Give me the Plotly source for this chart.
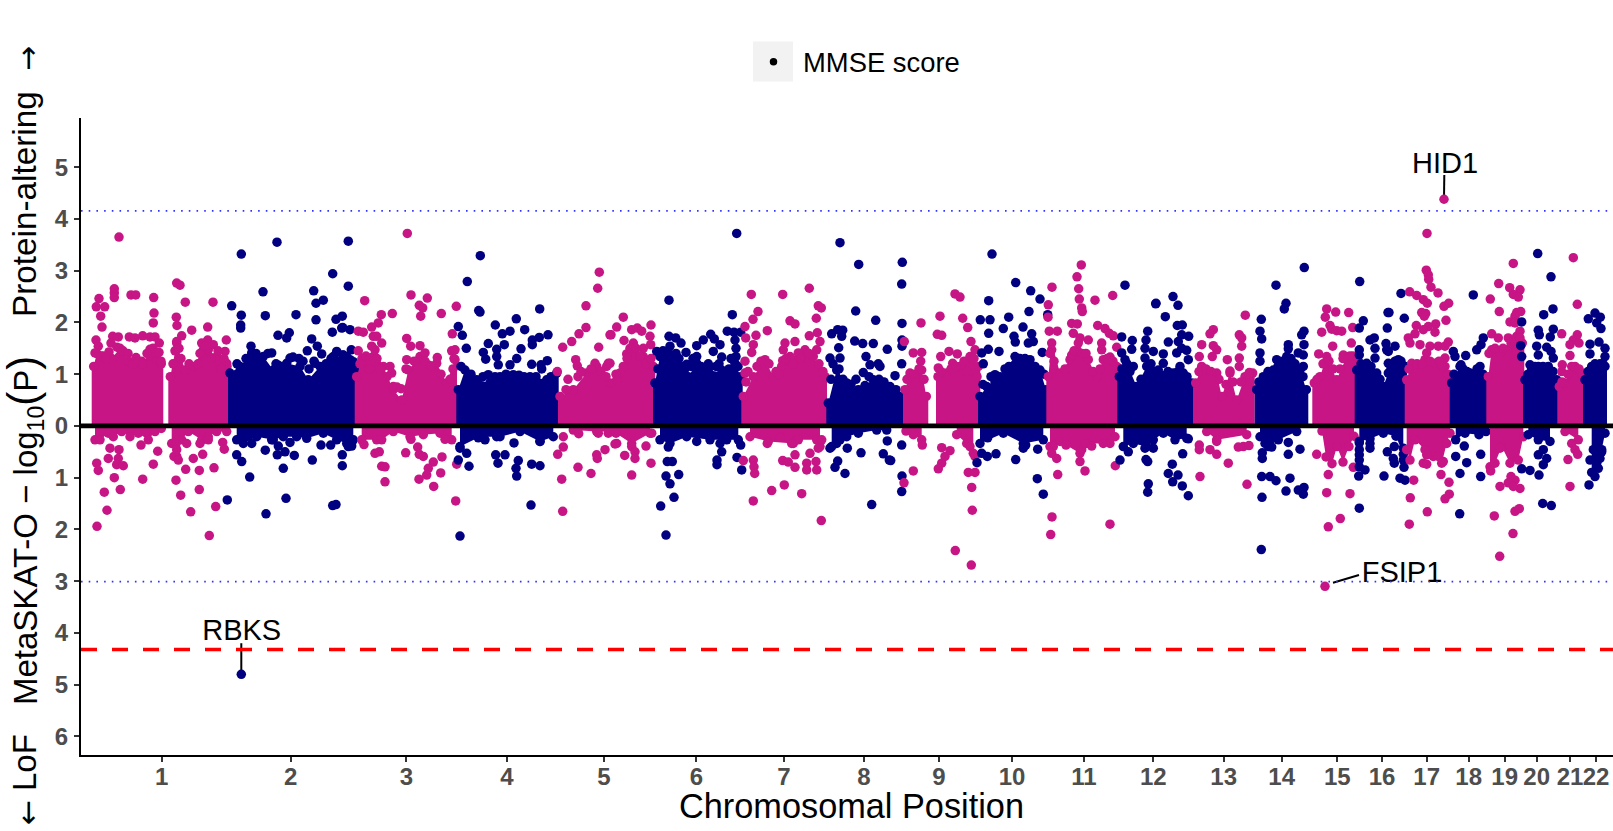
import plotly.graph_objects as go

# Genome position is in plot units along the concatenated chromosomes; values are signed -log10(P)
# (positive = protein-altering, negative = LoF). "_band"/"_low" = edges of the solid dense mass.
chrom_labels = [str(i) for i in range(1, 23)]
chrom_ticks = [80.7, 209.7, 325.3, 426, 523, 615.4, 703, 783, 858, 931, 1003, 1072.3, 1142.7, 1200.7,
               1256.3, 1301, 1345.7, 1387.7, 1423.7, 1455.7, 1489, 1515]
MAGENTA = "#C71585"
NAVY = "#000080"

chr01_band = [(12.7,1.15),(15.7,1.4),(22.3,1.35),(30.7,1.3),(39,1.5),(47.3,1.25),(52.3,1.2),(60.7,1.25),(69,1.35),(75.7,1.3),(80.3,1.2),None,
              (89.3,.95),(95.7,1.6),(104,1.08),(112.3,1.15),(122.3,1.47),(127.3,1.47),(135.7,1.34),(145.7,1.21),(148.3,.95)]
chr01_low = [(14,-.27),(19,-.27),(27.3,-.14),(32.3,-.21),(40.7,-.11),(49,-.21),(57.3,-.14),(67.3,-.27),(74,-.11),(80.3,-.05),None,
             (90.7,-.34),(95.7,-.59),(100.7,-.27),(107.3,-.11),(120.7,-.27),(127.3,-.21),(135.7,-.11),(145.7,-.11)]
chr01_points = [(38,3.65),(33.3,2.65),(33.3,2.57),(33.3,2.48),(50,2.53),(54.7,2.53),(72.7,2.48),(18,2.46),(15.3,2.3),(23.7,2.3),(19.7,2.12),(21,1.91),
    (73,2.18),(72.3,1.99),(95.7,2.76),(99,2.72),(104.3,2.39),(132,2.39),(95.3,2.1),(96,1.94),(110.7,1.85),(126.7,1.91),(15,1.66),(31.7,1.73),(37.3,1.72),
    (48.3,1.72),(54,1.7),(61.7,1.74),(69,1.72),(74,1.72),(78.3,1.6),(100.7,1.74),(95.7,1.63),(126.7,1.66),(145.3,1.66),(120.7,1.6),(132.3,1.57),(144,1.44),
    (17.3,1.54),(69,1.48),(74,1.41),(14,1.41),(20,1.35),(28,1.43),(30,1.6),(36,1.52),(42,1.45),(47,1.4),(55,1.32),(62,1.2),(66,1.4),(72,1.5),(78,1.42),(80,1.25),(25,1.3),
    (92,1.2),(94,1.45),(98,1.5),(100,1.3),(108,1.2),(117,1.2),(119,1.4),(125,1.55),(130,1.3),(137,1.45),(143,1.3),(146,1.15),(140,1.1),
    (29,-.43),(27.3,-.63),(38,-.46),(37.3,-.63),(35.7,-.75),(42.3,-.77),(60,-.37),
    (76.7,-.49),(72.3,-.74),(15.7,-.72),(17.3,-.86),(33.3,-1.0),(61.7,-1.03),(39.3,-1.23),(23.3,-1.28),(26,-1.63),(16,-1.94),(95,-.34),(93,-.59),(97.3,-.66),
    (105.7,-.34),(112.3,-.63),(121.7,-.55),(104.7,-.84),(118.3,-.86),(133,-.81),(95,-1.05),(99.7,-1.34),(118.3,-1.23),(109.7,-1.66),(134.7,-1.56),(128.3,-2.12),
    (141.7,-.32),(143.3,-.45),(119,-.34),(127.3,-.27),(95.7,-.46)]

chr02_band = [(149,1.02),(159,1.15),(170.7,1.41),(182.3,1.34),(192.3,1.08),(205.7,1.21),(219,1.15),(227.3,.89),(239,1.15),(252.3,1.34),(265.7,1.34),(269,1.28),(274,1.08)]
chr02_low = [(155.7,-.27),(162.3,-.34),(175.7,-.21),(192.3,-.27),(202.3,-.21),(215.7,-.21),(225.7,-.24),(242.3,-.14),(255.7,-.27),(265.7,-.34),(267.3,-.4),(272.3,-.27)]
chr02_points = [(160.3,3.32),(196,3.55),(267.3,3.57),(251.7,2.94),(182,2.59),(232.7,2.61),(267.3,2.7),(235,2.37),(242.3,2.43),(150.7,2.32),(160.3,2.14),(184.3,2.13),
    (215,2.15),(235,2.05),(255,2.06),(261.3,2.12),(159.7,1.95),(159.7,1.89),(197,1.75),(205.7,1.7),(208.3,1.8),(251.3,1.81),(260.7,1.89),(261.7,1.9),(269,1.86),
    (270.3,1.47),(261.7,1.37),(272.3,1.24),(230.7,1.68),(236.3,1.54),(226.3,1.45),(240.7,1.39),(170,1.54),(255.7,1.44),(262.3,1.37),(209,1.31),(190.7,1.41),(234,1.21),(197.3,1.17),
    (156,1.2),(165,1.3),(175,1.4),(180,1.2),(187,1.4),(195,1.2),(200,1.15),(212,1.33),(218,1.3),(222,1.25),(228,1.1),(233,1.25),(245,1.2),(250,1.3),(258,1.2),(268,1.1),
    (170.7,-.34),(190.7,-.27),(197.3,-.39),(209,-.32),(240,-.37),(249.7,-.37),
    (155.7,-.56),(160.7,-.69),(184.3,-.47),(196.3,-.56),(204,-.5),(213.3,-.57),(202.3,-.82),(231.3,-.66),(261.3,-.56),(261.3,-.77),(168.7,-.99),(205,-1.4),(146.3,-1.43),
    (185,-1.7),(251.7,-1.54),(255,-1.52),(270.7,-.39)]

chr03_band = [(275.7,.95),(281,1.3),(294,1.47),(302.3,1.15),(312.3,.7),(320.7,.5),(327.3,1.08),(339,1.34),(355.7,1.21),(365.7,.83),(374,1.28)]
chr03_low = [(280.7,-.27),(295.7,-.27),(300.7,-.27),(312.3,-.11),(329,-.21),(342.3,-.17),(359,-.14),(370.7,-.27)]
chr03_points = [(283.7,2.42),(300.3,2.15),(311.3,2.17),(330,2.53),(346.3,2.47),(338.3,2.33),(341.7,2.28),(339.7,2.12),(360.3,2.17),(375.3,2.31),(326.3,3.72),
    (297.3,1.99),(290.7,1.91),(277.3,1.83),(282.3,1.81),(292.3,1.73),(371.3,1.78),(325.7,1.69),(300.7,1.6),(290.7,1.54),(329.7,1.54),(339,1.55),(277.3,1.45),(370.7,1.45),
    (374,1.47),(295.7,1.73),(344,1.41),(356.3,1.32),(325.7,1.28),(309,1.15),(310.7,1.02),(312.3,.76),
    (279,1.2),(285,1.35),(288,1.1),(296,1.3),(299,1.1),(306,.95),(316,.75),(320,.72),(325,1.1),(333,1.25),(344,1.25),(350,1.15),(360,1),(369,.9),(372,1.1),(373,1.3),
    (283,-.36),(294,-.53),(298.3,-.5),(324.7,-.52),(336.7,-.41),(330,-.26),(364,-.26),
    (338.3,-.55),(342.3,-.59),(361,-.6),(352.3,-.7),(347.3,-.82),(300.7,-.78),(304,-.79),(304,-1.08),(359.7,-.91),(345.7,-.95),(338,-1.03),(352.7,-1.17),(374.7,-1.45),(375.7,-.74)]

chr04_band = [(377.3,.7),(384,1.08),(395.7,.89),(409,.83),(419,.95),(432.3,.99),(449,.95),(465.7,.89),(475.7,1.02)]
chr04_low = [(379,-.4),(399,-.21),(419,-.21),(439,-.11),(459,-.3),(472.3,-.21)]
chr04_points = [(399.3,3.29),(386.3,2.79),(397.7,2.23),(399,2.2),(458.7,2.26),(435.3,2.07),(377.3,1.92),(381.3,1.75),(414.3,1.95),(443.7,1.86),(429,1.83),(421.3,1.78),(467,1.76),
    (458.3,1.71),(451.3,1.66),(451.3,1.57),(385.3,1.5),(407.3,1.59),(423.3,1.57),(440,1.49),(402.3,1.42),(415.7,1.48),(415.7,1.34),(404.7,1.29),(435.7,1.3),(466.3,1.26),(450.7,1.19),
    (460,1.18),(429,1.18),(417.3,1.18),(460.7,1.1),(407.3,.99),(380,1.15),(390,1),(402,.95),(414,.95),(425,1),(438,.98),(443,.95),(455,.95),(470,.95),
    (397.3,-.23),(404,-.27),(415.7,-.21),(433,-.33),(459,-.3),(379,-.43),(414.7,-.56),(424,-.56),(377.3,-.66),
    (385.7,-.53),(388,-.78),(417,-.72),(437.3,-.67),(450.7,-.74),(459,-.77),(435,-.82),(435.7,-.97),(450,-1.53),(379,-2.13)]

chr05_band = [(479,.57),(492.3,.7),(505.7,1.02),(515.7,1.15),(529,.83),(535.7,.89),(542.3,1.15),(552.3,1.6),(562.3,1.34),(572.3,1.15)]
chr05_low = [(492.3,-.08),(515.7,-.11),(532.3,-.11),(550.7,-.34),(569,-.14)]
chr05_points = [(518.3,2.97),(516.7,2.66),(505,2.32),(505,1.9),(498,1.78),(535.7,1.91),(529,1.76),(490.7,1.63),(481.7,1.52),(517.7,1.52),(494.7,1.28),(496.3,1.16),(514,1.21),(527.3,1.21),
    (525.7,1.15),(476.3,1.05),(542.3,2.1),(530,1.76),(570,1.95),(550.7,1.86),(556.3,1.89),(560.7,1.83),(569,1.73),(543,1.65),(569.7,1.57),(562.3,1.5),(545.7,1.39),(568.3,1.25),(539,1.02),(529,1.21),
    (485,.7),(487,.9),(497,.95),(500,1.05),(510,1.1),(520,1.05),(525,.95),(535,1),(546,1.3),(549,1.5),(555,1.5),(559,1.35),(565,1.2),(570,1.3),
    (482.3,-.21),(482.3,-.41),(476.7,-.55),(497.7,-.15),(517.3,-.14),(527.3,-.14),(535.7,-.34),(524,-.46),(515.7,-.56),(516.3,-.63),(497,-.8),(510,-.92),(480.7,-1.03),(481.7,-1.65),
    (535,-.14),(534,-.35),(550.7,-.4),(554,-.5),(554,-.63),(543.7,-.57),(565,-.39),(570,-.72),(550.7,-.95),(570.7,-.14)]

chr06_band = [(574,.83),(579,1.34),(589,1.54),(600.7,1.15),(607.3,.95),(615.7,1.21),(627.3,1.08),(642.3,1.02),(654,1.21),(659.7,.95)]
chr06_low = [(579,-.27),(589,-.34),(605.7,-.21),(629,-.27),(645.7,-.27),(657.3,-.27)]
chr06_points = [(655.7,3.72),(588,2.43),(651.3,2.15),(588,1.73),(594.7,1.7),(600,1.6),(605,1.42),(575.7,1.44),(629.7,1.77),(622.3,1.66),(615.7,1.55),(633.3,1.68),(639,1.57),(646.3,1.83),
    (653,1.81),(659.7,1.81),(654,1.66),(655,1.5),(655,1.34),(640.7,1.33),(632.3,1.44),(615.7,1.34),(605.7,1.19),(627.3,1.2),(640.7,1.08),
    (577,1.1),(582,1.45),(586,1.4),(595,1.4),(598,1.3),(604,1.1),(610,1.15),(612,1.3),(620,1.15),(635,1.15),(638,1.2),(648,1.1),(650,1.3),(657,1.15),
    (587.3,-.41),(615.7,-.3),(639,-.34),(659.7,-.37),(640.7,-.5),(586.3,-.69),(591.3,-.69),
    (636,-.66),(636,-.75),(656,-.61),(660.7,-.85),(597.7,-.94),(585,-.97),(589,-1.12),(593,-1.38),(579.7,-1.55),(585,-2.11)]

chr07_band = [(662.3,.57),(672.3,.95),(684,1.28),(692.3,.95),(700.7,1.15),(709,1.34),(724,1.41),(732.3,1.34),(744,.95)]
chr07_low = [(669,-.21),(687.3,-.3),(712.3,-.34),(717.3,-.27),(735.7,-.27),(739,-.4)]
chr07_points = [(670.3,2.54),(701.7,2.54),(728.3,2.66),(737.3,2.32),(740.3,2.28),(677,2.21),(672,2.06),(735.3,2.08),(709,2.03),(714,1.97),(664,1.92),(686.3,1.84),(736.3,1.8),(728.3,1.74),
    (675,1.75),(664.7,1.7),(672.3,1.57),(704,1.6),(714,1.63),(739,1.63),(702.3,1.47),(735.7,1.47),(724,1.47),(670.7,1.42),(717.3,1.41),(701.7,1.26),(664,1.02),(664,1.25),
    (665,.85),(667,1.05),(676,1.15),(680,1.25),(688,1.2),(695,1.05),(698,1),(705,1.3),(712,1.2),(720,1.3),(728,1.4),(738,1.2),(742,1.05),
    (686.3,-.34),(699.3,-.22),(710.7,-.34),(714,-.56),(740.7,-.27),(737.3,-.43),(729,-.53),(662.3,-.67),(672.3,-.66),(673,-.79),(673.7,-.92),
    (701.7,-.67),(707.3,-.7),(714,-.8),(725.7,-.72),(725.7,-.85),(735,-.69),(735.7,-.85),(703.3,-1.14),(690.7,-1.25),(720.7,-1.31),(672.3,-1.45),(740.3,-1.83)]

chr08_band = [(747.3,.44),(755.7,1.08),(765.7,.83),(777.3,.7),(792.3,.89),(805.7,.76),(809,.76),(820,.57)]
chr08_low = [(750.7,-.4),(759,-.27),(765.7,-.21),(777.3,-.14),(795.7,-.08),(805.7,-.08)]
chr08_points = [(759,3.54),(777.7,3.12),(774.7,2.22),(794.7,2.04),(750.7,1.78),(756.7,1.86),(761.7,1.85),(760.7,1.73),(773.7,1.64),(781.7,1.59),(792.3,1.59),(806.3,1.48),(757.7,1.51),(785,1.34),
    (749,1.31),(759,1.31),(797.3,1.2),(789,1.18),(782.3,1.03),(821.3,3.16),(820.7,2.74),(821,1.98),(821,1.66),(821,1.54),(799,1.15),(820.7,1.2),(814,.97),
    (750,.9),(752,1.2),(758,1.1),(762,.9),(770,.8),(775,.9),(784,.78),(788,.95),(798,.9),(803,.85),(815,.7),
    (749,-.43),(755.7,-.34),(766.3,-.43),(780,-.52),(756.7,-.68),(754,-.8),(764,-.92),(790.7,-1.52),(802.3,-.54),(806.3,-.29),(808.3,-.66),
    (820.7,-.37),(809.7,-.67),(821,-.97),(820.7,-1.27)]

chr09_band = [(824,.7),(829,1.02),(840.7,1.08),(845.3,.57),None,(857,.95),(865.7,1.02),(879,1.15),(889,1.34),(897.3,1.15)]
chr09_low = [(825,-.1),(832.3,-.17),(840.7,-.27),None,(875.7,-.17),(885.7,-.34),(892.3,-.53)]
chr09_points = [(874,2.55),(879,2.49),(859,2.12),(881.7,2.08),(840,1.99),(886.7,1.9),(856.3,1.77),(860.7,1.75),(890,1.63),(823.3,1.63),(894,1.47),(832.3,1.41),(840.7,1.42),(868,1.44),(876.3,1.39),
    (859.7,1.34),(839.7,1.25),(857.3,1.12),(871.7,1.21),(826,.9),(833,1),(838,1.1),(843,.9),(860,1.05),(870,1.1),(875,1.15),(883,1.25),(886,1.05),(893,1.3),(896,.95),
    (841.3,-.37),(889,-.4),(894,-.59),(860.7,-.42),(869,-.48),(864,-.59),(860.7,-.72),(857.3,-.83),(832.3,-.87),(823,-1.1),(887.3,-.9),(894,-.9),
    (890.7,-1.19),(891.3,-1.63),(874.3,-2.41),(890.3,-2.69)]

chr10_band = [(899,.57),(905.7,.76),(919,.95),(934,1.34),(949,1.28),(959,1.08),(965,.7)]
chr10_low = [(899,-.34),(922.3,-.14),(942.3,-.34),(962.3,-.27)]
chr10_points = [(911,3.32),(934.7,2.77),(949.7,2.61),(959,2.45),(907.7,2.42),(948,2.21),(966.7,2.15),(899.3,2.05),(909,2.05),(927.7,2.1),(942,1.91),(922.3,1.88),(907.7,1.79),(950.7,1.78),(933,1.73),
    (934.3,1.62),(947.3,1.6),(952.3,1.63),(907.3,1.48),(918,1.44),(900.7,1.41),(961.3,1.42),(902.3,1.2),(914,.99),(902,.8),(910,.95),(914,.85),(924,1.1),(928,1.15),(939,1.3),(944,1.3),(954,1.15),(963,1),
    (906.7,-.23),(900.7,-.53),(906.3,-.59),(915,-.54),(896,-.71),(934.7,-.65),(942.3,-.43),(944.7,-.37),(956.7,-.45),(956.3,-1.02),(962.3,-1.32)]

chr11_band = [(967.3,.95),(970.7,1.6),(979,1.02),(989,1.28),(997.3,1.6),(1007.3,1.28),(1015.7,.95),(1022.3,1.28),(1035.7,1.15)]
chr11_low = [(969,-.4),(979,-.3),(999,-.53),(1005.7,-.34),(1022.3,-.34),(1034,-.21)]
chr11_points = [(1000.3,3.11),(996,2.88),(971,2.68),(997.7,2.65),(998.3,2.45),(1014,2.43),(1031.7,2.52),(967.3,2.34),(1000.7,2.28),(1001.3,2.21),(967,2.1),(990.7,1.98),(996.3,1.97),(1016.7,1.94),
    (968.3,1.83),(976.3,1.83),(1024,1.88),(1028.3,1.79),(1032.3,1.74),(992.3,1.79),(999,1.7),(1007.3,1.66),(1020.7,1.6),(1020.7,1.47),(1035.7,1.52),(970.7,1.47),(990.7,1.37),(1029,1.33),
    (969,1.4),(973,1.25),(984,1.1),(993,1.45),(1001,1.4),(1005,1.4),(1012,1.05),(1019,1.1),(1026,1.3),(1032,1.25),
    (972.3,-.4),(970.7,-.53),(975.7,-.63),(985,-.37),(976.7,-.94),(1000.7,-.46),(999,-.69),(1004,-.34),(1010.7,-.39),(1004,-.87),(1029,-.34),
    (1034.3,-.77),(971,-1.76),(969.7,-2.1),(1029,-1.9)]

chr12_band = [(1038.3,.95),(1045.7,1.21),(1055.7,.76),(1065.7,1.15),(1077.3,1.08),(1092.3,1.02),(1102.3,1.02),(1110.7,.83)]
chr12_low = [(1042.3,-.4),(1052.3,-.34),(1065.7,-.4),(1072.3,-.27),(1082.3,-.14),(1094,-.27),(1105.7,-.24)]
chr12_points = [(1044,2.72),(1074.7,2.36),(1066.7,1.83),(1040.7,1.72),(1051.3,1.65),(1050.7,1.48),(1065,1.66),(1064,1.5),(1072.3,1.44),(1040.7,1.41),(1064,1.31),(1044,1.28),(1052.3,1.15),
    (1075,2.37),(1092,2.5),(1097,2.33),(1084.3,2.11),(1096.3,1.94),(1101.3,1.95),(1100.7,1.76),(1107.7,1.73),(1087.3,1.62),(1097.3,1.63),(1100.7,1.5),(1105.7,1.46),(1082.3,1.39),(1095.7,1.41),
    (1107.3,1.28),(1082.3,1.21),(1099,1.15),(1041,1.1),(1049,1.05),(1060,.9),(1070,1.2),(1073,1.05),(1087,1.05),(1097,1.05),(1106,.95),
    (1047.3,-.5),(1039,-.66),(1064,-.43),(1072.3,-.43),(1065,-.65),(1066.7,-.69),(1067.3,-1.12),(1066.7,-1.28),
    (1107.3,-.25),(1101.7,-.54),(1091.3,-.74),(1087.3,-.92),(1097,-.95),(1091.7,-1.08),(1101.3,-1.16),(1107.3,-1.35)]

chr13_band = [(1114.7,.83),(1120.7,1.15),(1135.7,1.02),(1140.7,.57),(1149,1.02),(1155.7,.5),(1164,.95),(1171.7,1.02)]
chr13_low = [(1125.7,-.11),(1135.7,-.27),(1165.7,-.17)]
chr13_points = [(1164.3,2.14),(1132.3,1.86),(1129,1.78),(1158.3,1.76),(1160.7,1.7),(1120.7,1.57),(1132.3,1.55),(1160.7,1.54),(1135.7,1.47),(1118.3,1.34),(1131.3,1.34),(1146.3,1.28),(1158.3,1.31),
    (1158.3,1.15),(1149,1.06),(1168.3,1.03),(1118,1.05),(1125,1.1),(1130,1.05),(1138,.9),(1145,.8),(1152,.85),(1160,.85),(1168,1),
    (1135.7,-.3),(1118.3,-.37),(1118.3,-.46),(1129,-.46),(1135.7,-.55),(1157.3,-.41),(1162.3,-.4),(1168,-.38),(1147.3,-.72),(1119,-.98),(1166,-1.13)]

chr14_band = [(1175.7,.7),(1182.3,.95),(1192.3,1.08),(1205.7,1.34),(1219,1.08),(1225.3,.7)]
chr14_low = [(1179,-.21),(1187.3,-.4),(1197.3,-.27),(1215.7,-.11)]
chr14_points = [(1223.3,3.06),(1195,2.72),(1205,2.37),(1203.3,2.26),(1180.3,2.06),(1179,1.83),(1180.7,1.68),(1223,1.83),(1220.7,1.76),(1223,1.57),(1207.3,1.57),(1207.3,1.49),(1179,1.41),(1179,1.25),
    (1217.3,1.41),(1222.3,1.37),(1195.7,1.28),(1222.3,1.15),(1178,.85),(1187,1.05),(1197,1.15),(1202,1.25),(1210,1.3),(1214,1.2),(1222,.95),
    (1184,-.34),(1190.7,-.41),(1207.3,-.32),(1219,-.45),(1207.3,-.55),(1181.3,-.52),(1181.3,-.63),(1180.7,-.98),(1189,-.98),(1195,-1.06),(1209,-1.01),
    (1205,-1.26),(1217.3,-1.24),(1223,-1.19),(1222.3,-1.32),(1181,-1.38),(1180.3,-2.39)]

chr15_band = [(1233.3,.83),(1239,.95),(1245.7,1.34),(1255.7,.89),(1265.7,1.34),(1274,1.28)]
chr15_low = [(1241,-.1),(1245,-.6),(1251,-.73),(1256,-.4),(1262,-.7),(1268,-.4),(1273,-.2)]
chr15_points = [(1245.7,2.26),(1254.7,2.2),(1267.7,2.19),(1244.3,2.1),(1249,1.94),(1250.7,1.87),(1255.7,1.84),(1260.7,1.83),(1240.7,1.81),(1271.7,1.9),(1270.3,1.6),(1251.7,1.54),(1237.7,1.39),(1262.3,1.37),
    (1236,.9),(1242,1.2),(1248,1.25),(1252,1.1),(1259,1.1),(1262,1.3),(1269,1.35),(1272,1.35),
    (1235.7,-.55),(1272.3,-.8),(1247.3,-.94),(1245.7,-1.29),(1269,-1.31),(1259.3,-1.79),(1247.3,-1.95)]

chr16_band = [(1275.7,1.08),(1285.7,1.21),(1295.7,1.02),(1302.3,.76),(1307.3,1.02),(1317.3,1.28),(1324,1.15)]
chr16_low = [(1278.3,-.3),(1289,-.25),(1302.3,-.14),(1315,-.2),(1322.3,-.55)]
chr16_points = [(1278.7,2.79),(1307,2.19),(1282.3,2.03),(1278.3,1.89),(1306.3,1.89),(1289,1.66),(1293.3,1.7),(1305,1.59),(1294,1.5),(1305.7,1.47),(1278.3,1.47),(1278.3,1.37),(1294,1.31),
    (1320,2.56),(1308,2.19),(1323.3,2.08),(1314,1.54),(1307.3,1.44),(1307.3,1.21),(1280,1.2),(1290,1.15),(1299,.9),(1310,1.1),(1314,1.25),(1320,1.25),
    (1278.3,-.33),(1278.3,-.46),(1278.3,-.56),(1278.3,-.66),(1278.3,-.79),(1284,-.85),(1277.7,-.97),(1278.3,-1.59),(1289,-.34),(1289,-.43),(1303,-.97),(1306.3,-.5),
    (1313.3,-.4),(1312.3,-.63),(1313.3,-.72),(1319,-1.01),(1324,-1.05),(1322.3,-.43),(1322.3,-.66),(1323,-.8)]

chr17_band = [(1325.7,.89),(1330.7,1.21),(1344,1.28),(1354,1.21),(1364,1.15),(1369,.89)]
chr17_low = [(1325.7,-.46),(1329,-.66),(1334,-.27),(1344,-.46),(1352.3,-.59),(1360.7,-.72),(1365.7,-.34),(1369,-.14)]
chr17_points = [(1346,3.72),(1345.3,3.01),(1347.3,2.92),(1347.7,2.83),(1350,2.68),(1357,2.57),(1328.7,2.59),(1335.7,2.52),(1342.3,2.44),(1346.3,2.37),(1367.7,2.37),(1363,2.31),(1340.7,2.19),(1344.7,2.17),
    (1343.3,2.12),(1365,2.04),(1335.3,1.94),(1354.7,1.97),(1347.3,1.92),(1342.3,1.86),(1334,1.78),(1354,1.81),(1327.3,1.7),(1329,1.6),(1339,1.57),(1349,1.54),(1357.3,1.54),(1367.3,1.62),(1364,1.54),
    (1345.7,1.41),(1364,1.31),(1328,1.1),(1336,1.2),(1341,1.2),(1349,1.25),(1358,1.25),(1361,1.15),(1367,1),
    (1345.7,-.56),(1357.3,-.59),(1362.3,-.69),(1342.3,-.72),(1345.7,-.74),(1360,-.94),
    (1332.7,-1.05),(1368,-1.09),(1329.3,-1.39),(1368.3,-1.32),(1364,-1.41),(1346.3,-1.66),(1328.3,-1.9)]

chr18_band = [(1370.7,.83),(1379,1.15),(1389,1.02),(1399,1.15),(1405,.83)]
chr18_low = [(1374.7,-.27),(1384,-.14),(1398,-.17),(1405,-.11)]
chr18_points = [(1392.3,2.53),(1402.3,1.7),(1400,1.57),(1395.7,1.47),(1384.7,1.36),(1372.3,1.44),(1374,1.34),(1380,1.18),(1373,1),(1382,1.1),(1386,1.05),(1393,1),(1396,1.1),(1402,1),
    (1383.3,-.39),(1374.7,-.59),(1385.7,-.71),(1399.7,-.55),(1379,-.92),(1399.7,-.98),(1378.7,-1.7)]

chr19_band = [(1407.3,.95),(1410.7,1.47),(1419,1.41),(1425.7,1.47),(1435.7,1.73),(1441.3,1.6)]
chr19_low = [(1409,-.79),(1414,-.72),(1420.7,-.4),(1429,-.72),(1437.3,-.66),(1442.3,-.21)]
chr19_points = [(1432.3,3.14),(1417.7,2.75),(1428.7,2.67),(1439,2.63),(1409.3,2.45),(1432.3,2.54),(1437.3,2.49),(1418.3,2.21),(1435.7,2.19),(1439.7,2.21),(1434,2.12),(1429,2.01),(1434,1.99),(1410.7,1.78),
    (1439,1.83),(1417.3,1.7),(1427.3,1.7),(1408,1.4),(1414,1.5),(1422,1.5),(1430,1.6),(1433,1.65),(1439,1.7),
    (1409.7,-.87),(1419,-.43),(1419,-1.17),(1430,-.98),(1434,-1.05),(1427.3,-1.1),(1439,-1.21),
    (1432.3,-1.17),(1413.3,-1.74),(1434,-1.65),(1438.3,-1.6),(1432,-2.08),(1418.7,-2.52)]

chr20_band = [(1444,.89),(1450.7,1.08),(1457.3,1.15),(1467.3,1.15),(1475.7,.89)]
chr20_low = [(1447.3,-.17),(1457.3,-.27),(1469,-.3)]
chr20_points = [(1456.7,3.33),(1470,2.88),(1472,2.26),(1462.7,2.15),(1472.3,1.87),(1469.3,1.72),(1457.3,1.85),(1458.3,1.76),(1440.7,2.01),(1439.7,1.55),(1440.7,1.34),(1455.7,1.54),(1465.7,1.52),(1470,1.44),
    (1472.3,1.31),(1457.3,1.37),(1449,1.18),(1447,1),(1454,1.15),(1462,1.15),(1472,1.05),
    (1462.3,-.46),(1457.3,-.56),(1465.7,-.63),(1462.3,-.75),(1440.7,-.83),(1449,-.86),(1458,-.95),(1461.7,-1.5),(1470.3,-1.54)]

chr21_band = [(1478.3,.76),(1484,.83),(1490.7,1.15),(1500.7,1.02)]
chr21_low = [(1484,-.11),(1497.3,-.27)]
chr21_points = [(1492.3,3.25),(1496.3,2.35),(1480.7,1.78),(1496.3,1.76),(1492.3,1.66),(1489,1.57),(1498,1.6),(1489,1.36),(1481.3,1.18),(1480.7,1.05),(1481,.85),(1487,1),(1494,1.15),(1498,1.1),
    (1490.7,-.34),(1494,-.46),(1496.7,-.55),(1487,-.65),(1489,-1.17)]

chr22_band = [(1504,.89),(1510.7,1.15),(1524,1.15)]
chr22_low = [(1510.7,-.9),(1515.7,-.72),(1520.7,-.46),(1524,-.14)]
chr22_points = [(1514,2.18),(1507.3,2.07),(1519.3,2.1),(1515.7,1.99),(1520,1.88),(1509,1.58),(1518,1.62),(1524,1.5),(1509,1.39),(1524,1.34),(1507,1.05),(1514,1.2),(1519,1.2),(1522,1.2),
    (1512.3,-.46),(1520.7,-.5),(1509,-.66),(1519,-.63),(1517.3,-.82),(1514,-.98),(1508,-1.14)]

chr_bands = [chr01_band, chr02_band, chr03_band, chr04_band, chr05_band, chr06_band, chr07_band, chr08_band, chr09_band, chr10_band, chr11_band,
             chr12_band, chr13_band, chr14_band, chr15_band, chr16_band, chr17_band, chr18_band, chr19_band, chr20_band, chr21_band, chr22_band]
chr_lows = [chr01_low, chr02_low, chr03_low, chr04_low, chr05_low, chr06_low, chr07_low, chr08_low, chr09_low, chr10_low, chr11_low,
            chr12_low, chr13_low, chr14_low, chr15_low, chr16_low, chr17_low, chr18_low, chr19_low, chr20_low, chr21_low, chr22_low]
chr_points = [chr01_points, chr02_points, chr03_points, chr04_points, chr05_points, chr06_points, chr07_points, chr08_points, chr09_points, chr10_points, chr11_points,
              chr12_points, chr13_points, chr14_points, chr15_points, chr16_points, chr17_points, chr18_points, chr19_points, chr20_points, chr21_points, chr22_points]

gene_names = ["HID1", "RBKS", "FSIP1"]
gene_x = [1363, 160.3, 1244]
gene_y = [4.38, -4.8, -3.1]
gene_color = [MAGENTA, NAVY, MAGENTA]
gene_line_x = [[1363, 1363.3], [160.3, 160.3], [1252, 1278]]
gene_line_y = [[4.38, 4.85], [-4.8, -4.2], [-3.03, -2.88]]
gene_label_x = [1364, 160.7, 1321]
gene_label_y = [5.02, -4.0, -2.88]

threshold_upper = 4.155
threshold_lower = -3.01
threshold_red = -4.32

MS = 9.5
BASE = 0.0
PAD = 2


def lobes_of(band):
    out, cur = [], []
    for p in band:
        if p is None:
            out.append(cur); cur = []
        else:
            cur.append(p)
    out.append(cur)
    return out


def polygon(band, pad):
    px, py = [], []
    for lobe in lobes_of(band):
        l, r = lobe[0][0] - pad, lobe[-1][0] + pad
        px += [l] + [p[0] for p in lobe] + [r, r, l, l, None]
        py += [lobe[0][1]] + [p[1] for p in lobe] + [lobe[-1][1], BASE, BASE, lobe[0][1], None]
    return px, py


fig = go.Figure()
for i, (band, low, pts) in enumerate(zip(chr_bands, chr_lows, chr_points)):
    color = MAGENTA if i % 2 == 0 else NAVY
    for edge, pad in ((band, PAD), (low, 0)):
        px, py = polygon(edge, pad)
        fig.add_trace(go.Scatter(x=px, y=py, mode="lines", fill="toself", fillcolor=color,
                                 line=dict(width=0, color=color), hoverinfo="skip", showlegend=False))
    all_pts = [p for p in band if p is not None] + [p for p in low if p is not None] + pts
    fig.add_trace(go.Scatter(x=[p[0] for p in all_pts], y=[p[1] for p in all_pts], mode="markers",
                             marker=dict(size=MS, color=color, line=dict(width=0)),
                             name=f"chr{chrom_labels[i]}", showlegend=False))

for name, x, y, c, lx, ly, tx, ty in zip(gene_names, gene_x, gene_y, gene_color, gene_line_x, gene_line_y, gene_label_x, gene_label_y):
    fig.add_trace(go.Scatter(x=lx, y=ly, mode="lines", line=dict(color="black", width=2), showlegend=False, hoverinfo="skip"))
    fig.add_trace(go.Scatter(x=[x], y=[y], mode="markers", marker=dict(size=MS, color=c), showlegend=False, name=name))
    fig.add_trace(go.Scatter(x=[tx], y=[ty], mode="text", text=[name], textposition="middle center",
                             textfont=dict(family="Liberation Sans", size=29, color="black"), showlegend=False, hoverinfo="skip"))

fig.add_trace(go.Scatter(x=[None], y=[None], mode="markers", marker=dict(size=7.5, color="black"), name="MMSE score", showlegend=True))

for yv in (threshold_upper, threshold_lower):
    fig.add_shape(type="line", xref="paper", x0=0, x1=1, y0=yv, y1=yv, layer="above",
                  line=dict(color="#3333ff", width=1.6, dash="1.6px,6.1px"))
fig.add_shape(type="line", xref="paper", x0=0, x1=1, y0=threshold_red, y1=threshold_red, layer="above",
              line=dict(color="#ff0000", width=3.6, dash="16px,15px"))
fig.add_shape(type="line", xref="paper", x0=0, x1=1, y0=0, y1=0, layer="above", line=dict(color="black", width=4.6))
fig.add_shape(type="rect", xref="paper", yref="paper", x0=(753-81)/1532, x1=(793-81)/1532,
              y0=(755-81.5)/637, y1=(755-41.5)/637, layer="below", fillcolor="#f2f2f2", line=dict(width=0))

# rotated y-axis title pieces: (text, vertical centre, horizontal centre, font family, font size)
y_title_parts = [("←", 812, 27, "DejaVu Sans", 30), ("LoF", 763, 24, "Liberation Sans", 33),
                 ('MetaSKAT-O − log<sub>10</sub><span style="font-size:42px">(</span>P<span style="font-size:42px">)</span>', 531, 24, "Liberation Sans", 33),
                 ("Protein-altering", 204, 24, "Liberation Sans", 33.3), ("→", 58, 27, "DejaVu Sans", 30)]
for text, py_, px_, fam, fs in y_title_parts:
    fig.add_annotation(xref="paper", yref="paper", x=(px_-81)/1532, y=(755-py_)/637, text=text, textangle=-90, showarrow=False,
                       font=dict(family=fam, size=fs, color="black"), xanchor="center", yanchor="middle")
fig.add_annotation(xref="paper", yref="paper", x=(851-81)/1532, y=(755-806)/637, text="Chromosomal Position", showarrow=False,
                   font=dict(family="Liberation Sans", size=34.3, color="black"), xanchor="center", yanchor="middle")

fig.update_layout(
    width=1613, height=831, margin=dict(l=81, r=0, t=118, b=76), paper_bgcolor="white", plot_bgcolor="white",
    font=dict(family="Liberation Sans"),
    legend=dict(x=(744-81)/1532, y=(755-62)/637, xanchor="left", yanchor="middle", bgcolor="rgba(0,0,0,0)",
                font=dict(size=27.4, color="black", family="Liberation Sans"), itemwidth=49),
    xaxis=dict(range=[0, 1532], tickmode="array", tickvals=chrom_ticks, ticktext=chrom_labels, showgrid=False, zeroline=False,
               tickangle=0, automargin=False, ticklabelstandoff=-6,
               showline=True, linecolor="black", linewidth=2.2, ticks="outside", ticklen=5, tickwidth=2, tickcolor="#333333",
               tickfont=dict(size=24, color="#4d4d4d", family="Liberation Sans", weight="bold")),
    yaxis=dict(range=[-6.36, 5.95], tickmode="array", tickvals=[-6,-5,-4,-3,-2,-1,0,1,2,3,4,5], ticktext=["6","5","4","3","2","1","0","1","2","3","4","5"],
               automargin=False, ticklabelstandoff=1,
               showgrid=False, zeroline=False, showline=True, linecolor="black", linewidth=2.2, ticks="outside", ticklen=5, tickwidth=2, tickcolor="#333333",
               tickfont=dict(size=24, color="#4d4d4d", family="Liberation Sans", weight="bold")),
)

fig.write_html("out.html", config={"displayModeBar": False},
               post_script="document.body.style.margin='0';document.body.style.overflow='hidden';")
